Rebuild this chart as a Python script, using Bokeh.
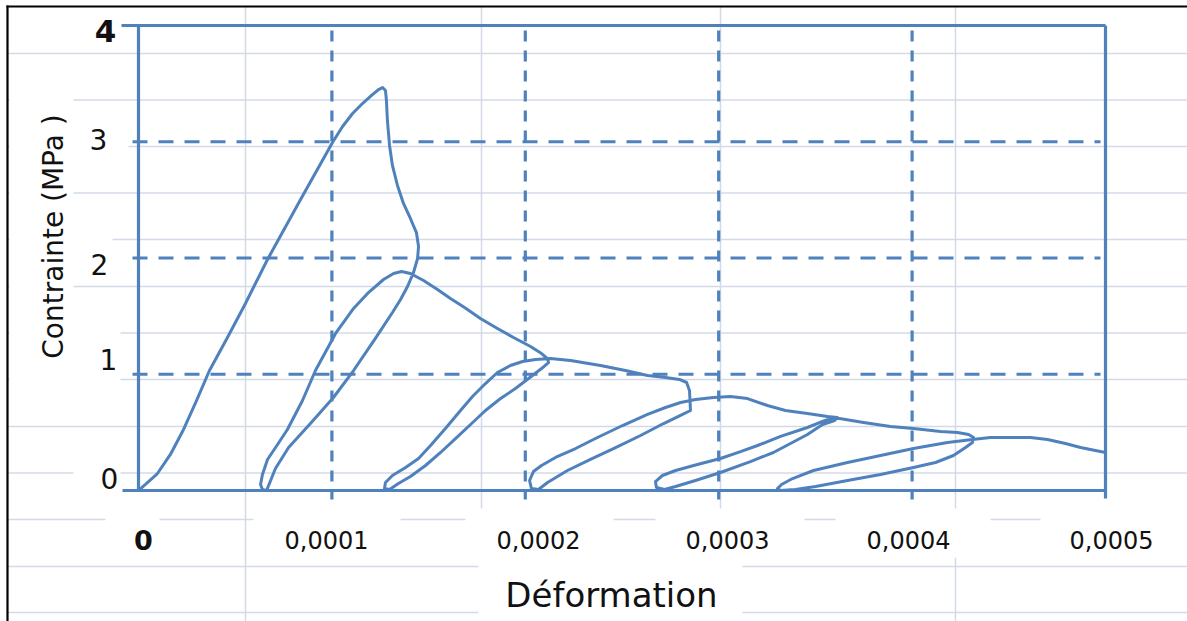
from bokeh.plotting import figure
from bokeh.models import Range1d, ColumnDataSource
from bokeh.embed import file_html
from bokeh.resources import INLINE
from bokeh.core.properties import value
import numpy as np

# ---------------- data ----------------
# strain in units of 1e-4, stress in MPa, one continuous hand-drawn cyclic curve
strain_e4 = [
    0, 0.036, 0.098, 0.165, 0.233, 0.300, 0.367, 0.460, 0.553, 0.667,
    0.838, 1.003, 1.055, 1.107, 1.158, 1.205, 1.241, 1.262, 1.277, 1.282,
    1.287, 1.298, 1.313, 1.339, 1.370, 1.406, 1.437, 1.448, 1.443, 1.422,
    1.391, 1.355, 1.313, 1.225, 1.112, 1.008, 0.889, 0.776, 0.708, 0.677,
    0.662, 0.641, 0.631, 0.641, 0.667, 0.719, 0.770, 0.848, 0.915, 1.019,
    1.112, 1.189, 1.267, 1.319, 1.360, 1.406, 1.474, 1.546, 1.613, 1.686,
    1.768, 1.856, 1.939, 2.027, 2.084, 2.115, 2.120, 2.084, 2.017, 1.949,
    1.872, 1.794, 1.717, 1.639, 1.562, 1.484, 1.406, 1.344, 1.298, 1.272,
    1.277, 1.313, 1.381, 1.448, 1.510, 1.587, 1.665, 1.727, 1.794, 1.856,
    1.923, 1.986, 2.053, 2.130, 2.234, 2.389, 2.518, 2.632, 2.725, 2.797,
    2.834, 2.849, 2.854, 2.792, 2.715, 2.596, 2.456, 2.337, 2.218, 2.115,
    2.068, 2.032, 2.022, 2.042, 2.084, 2.156, 2.260, 2.373, 2.503, 2.632,
    2.725, 2.803, 2.880, 2.973, 3.061, 3.149, 3.252, 3.345, 3.459, 3.563,
    3.614, 3.599, 3.537, 3.459, 3.371, 3.283, 3.164, 3.009, 2.880, 2.777,
    2.720, 2.678, 2.673, 2.709, 2.777, 2.890, 3.009, 3.113, 3.201, 3.320,
    3.459, 3.537, 3.594, 3.656, 3.749, 3.888, 4.007, 4.147, 4.235, 4.292,
    4.318, 4.312, 4.276, 4.214, 4.121, 4.007, 3.837, 3.666, 3.501, 3.397,
    3.320, 3.304, 3.325, 3.382, 3.490, 3.666, 3.837, 4.007, 4.183, 4.312,
    4.405, 4.524, 4.612, 4.700, 4.793, 4.871, 4.948, 5.000,
]
stress = [
    0, 0.052, 0.146, 0.310, 0.525, 0.774, 1.032, 1.316, 1.609, 1.987,
    2.503, 2.994, 3.131, 3.243, 3.329, 3.398, 3.449, 3.467, 3.441, 3.355,
    3.183, 2.968, 2.796, 2.624, 2.469, 2.340, 2.219, 2.099, 1.996, 1.875,
    1.755, 1.643, 1.531, 1.308, 1.032, 0.800, 0.576, 0.370, 0.189, 0.060,
    0, 0.009, 0.052, 0.138, 0.267, 0.396, 0.525, 0.774, 1.032, 1.351,
    1.566, 1.703, 1.815, 1.867, 1.884, 1.867, 1.806, 1.729, 1.652, 1.574,
    1.480, 1.394, 1.316, 1.239, 1.178, 1.135, 1.101, 1.049, 0.963, 0.877,
    0.791, 0.688, 0.568, 0.447, 0.327, 0.215, 0.120, 0.060, 0.009, 0.017,
    0.069, 0.129, 0.198, 0.275, 0.387, 0.533, 0.688, 0.809, 0.920, 1.015,
    1.075, 1.110, 1.127, 1.135, 1.118, 1.075, 1.032, 0.989, 0.972, 0.955,
    0.929, 0.860, 0.688, 0.637, 0.576, 0.473, 0.361, 0.267, 0.172, 0.069,
    0.009, 0.017, 0.086, 0.163, 0.215, 0.284, 0.361, 0.456, 0.559, 0.654,
    0.714, 0.757, 0.783, 0.800, 0.809, 0.791, 0.731, 0.688, 0.662, 0.637,
    0.628, 0.602, 0.568, 0.482, 0.404, 0.327, 0.249, 0.155, 0.086, 0.034,
    0.009, 0.026, 0.077, 0.129, 0.172, 0.224, 0.275, 0.335, 0.387, 0.465,
    0.542, 0.594, 0.628, 0.611, 0.585, 0.551, 0.533, 0.508, 0.499, 0.482,
    0.456, 0.413, 0.370, 0.301, 0.241, 0.198, 0.138, 0.086, 0.034, 0.009,
    0, 0.017, 0.052, 0.103, 0.172, 0.241, 0.301, 0.361, 0.413, 0.439,
    0.456, 0.456, 0.456, 0.439, 0.404, 0.370, 0.344, 0.327,
]

x_ticks = [0, 0.0001, 0.0002, 0.0003, 0.0004, 0.0005]
x_tick_labels = ["0", "0,0001", "0,0002", "0,0003", "0,0004", "0,0005"]
y_ticks = [0, 1, 2, 3, 4]
y_tick_labels = ["0", "1", "2", "3", "4"]
x_title = "Déformation"
y_title = "Contrainte (MPa )"

# ---------------- layout ----------------
W, H = 1187, 621
X0, PXX = 138.0, 193.4e4      # screen px of x=0 ; px per unit strain
Y0, PXY = 490.0, 116.25       # screen px (from top) of y=0 ; px per MPa

def px2x(px):   # screen pixel -> data x (layout helper only)
    return (px - X0) / PXX

def py2y(py):   # screen pixel -> data y (layout helper only)
    return (Y0 - py) / PXY

BLUE = "#4f81bd"
PAPER = "#d3dae7"
FONT = value("DejaVu Sans")

p = figure(width=W, height=H, output_backend="svg", toolbar_location=None,
           x_range=Range1d(-X0 / PXX, (W - X0) / PXX),
           y_range=Range1d(-(H - Y0) / PXY, Y0 / PXY),
           x_axis_location=None, y_axis_location=None,
           min_border=0, background_fill_color="white",
           border_fill_color="white")
p.outline_line_color = None
p.xgrid.visible = False
p.ygrid.visible = False

# background sheet grid (spreadsheet cells)
paper_h = [53, 99.5, 146, 192.5, 239, 286, 332.5, 379, 426, 472.5, 519, 566, 612]
paper_v = [245, 481, 720, 955]
p.segment(x0=[px2x(7)] * len(paper_h), x1=[px2x(1187)] * len(paper_h),
          y0=[py2y(v) for v in paper_h], y1=[py2y(v) for v in paper_h],
          line_color=PAPER, line_width=1.5)
p.segment(x0=[px2x(v) for v in paper_v], x1=[px2x(v) for v in paper_v],
          y0=[py2y(6)] * len(paper_v), y1=[py2y(621)] * len(paper_v),
          line_color=PAPER, line_width=1.5)
# sheet border
p.segment(x0=[px2x(7), px2x(6)], x1=[px2x(7), px2x(1187)],
          y0=[py2y(5), py2y(6)], y1=[py2y(621), py2y(6)],
          line_color="black", line_width=2.2)

# white label boxes hiding the sheet grid
boxes = [  # left, right, top, bottom (screen px)
    (9, 73, 75, 400),
    (73, 128, 118, 170), (73, 112, 228, 278), (73, 120, 325, 392), (73, 120, 458, 500),
    (105, 159, 508, 557), (253, 400, 508, 557), (465, 613, 508, 557),
    (655, 804, 508, 557), (835, 990, 508, 557), (1040, 1187, 508, 557),
    (478, 742, 557, 621),
]
p.quad(left=[px2x(b[0]) for b in boxes], right=[px2x(b[1]) for b in boxes],
       top=[py2y(b[2]) for b in boxes], bottom=[py2y(b[3]) for b in boxes],
       fill_color="white", line_color=None)

# dashed grid lines
vx = x_ticks[1:-1]
p.segment(x0=vx, x1=vx, y0=[py2y(30)] * len(vx), y1=[py2y(499)] * len(vx),
          line_color=BLUE, line_width=3.2, line_dash="11 9")
hy = y_ticks[1:-1]
p.segment(x0=[px2x(132)] * len(hy), x1=[px2x(1100)] * len(hy), y0=hy, y1=hy,
          line_color=BLUE, line_width=3.2, line_dash="15 11")

# frame / axes (solid)
xmax, ymax = x_ticks[-1], y_ticks[-1]
p.segment(x0=[px2x(121), 0, px2x(122), xmax],
          x1=[xmax, 0, xmax, xmax],
          y0=[ymax, ymax, 0, ymax],
          y1=[ymax, 0, 0, py2y(498)],
          line_color=BLUE, line_width=3.2)

# the curve
xs = np.array(strain_e4) * 1e-4
p.line(xs, stress, line_color=BLUE, line_width=3, line_join="round", line_cap="round")

# tick labels (hand placed offsets, px)
ysrc = ColumnDataSource(dict(
    x=[px2x(109), px2x(108), px2x(99), px2x(98), px2x(105)],
    y=y_ticks, text=y_tick_labels,
    dy=[-12, -15, 6, -2, 5],
    size=["28px", "28px", "28px", "28px", "31px"],
    style=["normal", "normal", "normal", "normal", "bold"],
))
p.text(x="x", y="y", text="text", source=ysrc, y_offset="dy",
       text_font=FONT, text_font_size="size", text_font_style="style",
       text_color="#111111", text_align="center", text_baseline="middle")
xsrc = ColumnDataSource(dict(
    x=[px2x(143), px2x(326), px2x(538), px2x(727), px2x(908), px2x(1111)],
    y=[py2y(539)] * len(x_ticks), text=x_tick_labels,
    size=["27px", "24px", "24px", "24px", "24px", "24px"],
    style=["bold", "normal", "normal", "normal", "normal", "normal"],
))
p.text(x="x", y="y", text="text", source=xsrc,
       text_font=FONT, text_font_size="size", text_font_style="style",
       text_color="#111111", text_align="center", text_baseline="middle")

# axis titles
p.text(x=[px2x(611)], y=[py2y(594)], text=[x_title], text_font=FONT,
       text_font_size="34px", text_color="#111111",
       text_align="center", text_baseline="middle")
p.text(x=[px2x(53)], y=[py2y(236)], text=[y_title], angle=np.pi / 2,
       text_font=FONT, text_font_size="28px", text_color="#111111",
       text_align="center", text_baseline="middle")

open("out.html", "w").write(file_html(p, INLINE))
